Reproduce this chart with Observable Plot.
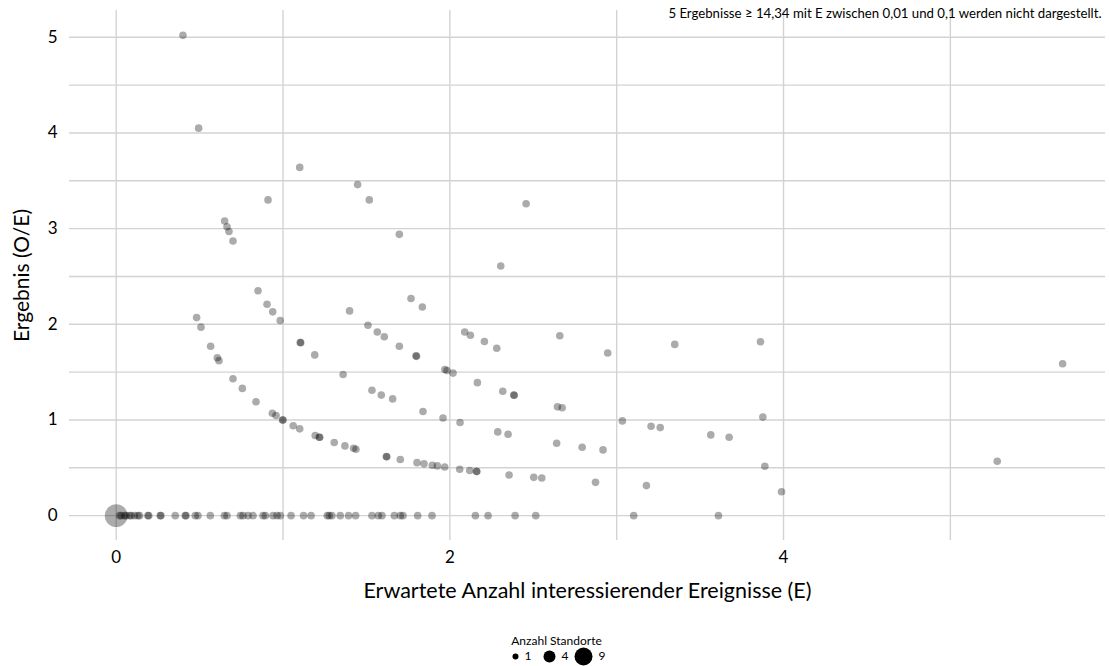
<!DOCTYPE html>
<html><head><meta charset="utf-8">
<script src="https://cdn.jsdelivr.net/npm/d3@7"></script>
<script src="https://cdn.jsdelivr.net/npm/@observablehq/plot@0.6"></script>
<style>
body{margin:0;background:#fff;font-family:Lato,"Open Sans",sans-serif;color:#000}
#legendTitle{text-align:center;font-size:12px;line-height:12px;margin-top:19px;padding-left:4px}
#legend{display:flex;justify-content:center;padding-left:14px;margin-top:-1px}
</style></head><body>
<div id="chart"></div>
<div id="legendTitle"></div>
<div id="legend"></div>
<script>
// Expected number of events (E) and result (O/E), one entry per site
const valE = [0.40,0.494,1.10,0.91,1.447,1.517,0.650,0.664,0.676,0.70,1.697,2.457,2.305,1.767,1.835,1.607,1.697,1.797,1.800,
  2.089,2.123,2.207,2.281,2.659,2.946,3.348,1.97,1.983,2.019,2.165,2.317,2.383,2.386,1.589,1.657,
  0.482,0.508,0.566,0.606,0.616,0.70,0.756,0.838,0.936,0.958,0.997,1.000,1.061,1.10,1.193,1.217,1.220,1.307,1.371,1.423,1.437,
  1.619,1.622,1.703,1.803,1.845,1.895,1.925,1.969,2.059,2.119,2.159,2.162,
  0.85,0.904,0.938,0.983,1.103,1.106,1.19,1.36,1.399,1.509,1.565,1.533,1.839,1.959,2.061,
  3.862,2.645,2.673,2.287,2.349,2.64,2.793,2.918,3.034,3.206,3.261,3.564,3.674,3.876,3.888,3.988,
  2.355,2.503,2.551,2.873,3.178,5.673,5.281];
const valOE = [5.02,4.05,3.64,3.30,3.46,3.30,3.08,3.02,2.97,2.87,2.94,3.26,2.61,2.27,2.18,1.87,1.77,1.67,1.665,
  1.92,1.886,1.82,1.75,1.88,1.70,1.79,1.527,1.517,1.49,1.39,1.30,1.26,1.258,1.26,1.22,
  2.07,1.97,1.77,1.65,1.62,1.43,1.33,1.19,1.07,1.046,1.00,1.00,0.94,0.907,0.837,0.82,0.82,0.764,0.729,0.704,0.694,
  0.617,0.616,0.586,0.554,0.541,0.526,0.52,0.509,0.484,0.471,0.463,0.462,
  2.35,2.21,2.13,2.04,1.81,1.808,1.68,1.475,2.14,1.99,1.92,1.31,1.088,1.02,0.973,
  1.817,1.137,1.127,0.875,0.85,0.756,0.715,0.687,0.99,0.934,0.92,0.844,0.82,1.03,0.516,0.25,
  0.425,0.40,0.394,0.348,0.314,1.587,0.568];
// Sites with O = 0 (O/E = 0)
const zeroE = [0,0.02,0.03,0.05,0.06,0.08,0.09,0.11,0.13,0.14,0.19,0.195,0.264,0.268,0.354,0.414,0.418,0.474,0.49,0.564,
  0.648,0.664,0.744,0.76,0.79,0.82,0.88,0.894,0.94,0.964,0.984,1.048,1.123,1.168,1.265,1.277,1.293,1.343,1.393,1.435,
  1.533,1.571,1.593,1.667,1.703,1.719,1.807,1.893,2.153,2.229,2.391,2.515,3.102,3.61];
const zeroN = zeroE.map(e => e === 0 ? 9 : 1);

const xTicks = [0,2,4];
const xGrid = [0,1,2,3,4,5];
const yTicks = [0,1,2,3,4,5];
const yGrid = [0,0.5,1,1.5,2,2.5,3,3.5,4,4.5,5];
const legendVals = [1,4,9];
const xLabel = "Erwartete Anzahl interessierender Ereignisse (E)";
const yLabel = "Ergebnis (O/E)";
const note = "5 Ergebnisse \u2265 14,34 mit E zwischen 0,01 und 0,1 werden nicht dargestellt.";
const legendTitle = "Anzahl Standorte";

const data = valE.map((e,i) => ({E:e, OE:valOE[i], n:1}))
  .concat(zeroE.map((e,i) => ({E:e, OE:0, n:zeroN[i]})));

const rMax = 11.4;
const rScale = {type:"sqrt", domain:[0,9], range:[0,rMax]};
const font = "Lato, 'Open Sans', sans-serif";
const fmt = d3.format("d");

const chart = Plot.plot({
  width:1109, height:616,
  marginTop:10, marginBottom:76, marginLeft:69, marginRight:4,
  style:{fontFamily:font, fontSize:"17px", color:"#000", background:"#fff"},
  x:{domain:[-0.28,5.93]},
  y:{domain:[-0.26,5.28]},
  r:rScale,
  marks:[
    Plot.gridX(xGrid, {stroke:"#d3d3d3", strokeOpacity:1, strokeWidth:1.4}),
    Plot.gridY(yGrid, {stroke:"#d3d3d3", strokeOpacity:1, strokeWidth:1.4}),
    Plot.axisX(xTicks, {tickSize:0, tickPadding:10, label:null, fontSize:17, tickFormat:fmt}),
    Plot.axisY(yTicks, {tickSize:0, tickPadding:12, label:null, fontSize:17, tickFormat:fmt}),
    Plot.dot(data, {x:"E", y:"OE", r:"n", fill:"#000", fillOpacity:0.33}),
    Plot.text([xLabel], {text:d=>d, frameAnchor:"bottom", dy:57, fontSize:21.5}),
    Plot.text([yLabel], {text:d=>d, frameAnchor:"left", textAnchor:"middle", rotate:-90, dx:-47, fontSize:21}),
    Plot.text([note], {text:d=>d, frameAnchor:"top-right", lineAnchor:"top", textAnchor:"end", dx:-4, dy:-2, fontSize:13.2})
  ]
});
document.getElementById("chart").append(chart);

document.getElementById("legendTitle").textContent = legendTitle;
const legendRadius = v => 9*Math.sqrt(v/9);
const legend = Plot.plot({
  width:104, height:20, margin:0,
  style:{fontFamily:font, fontSize:"12px", background:"transparent", overflow:"visible"},
  x:{type:"point", domain:legendVals, range:[4,73], padding:0, axis:null},
  y:{axis:null},
  r:{type:"sqrt", domain:[0,9], range:[0,9]},
  marks:[
    Plot.dot(legendVals, {x:d=>d, r:d=>d, fill:"#000", frameAnchor:"middle"}),
    ...legendVals.map(v => Plot.text([v], {x:d=>d, text:d=>String(d), textAnchor:"start", dx:legendRadius(v)+6, frameAnchor:"middle"}))
  ]
});
document.getElementById("legend").append(legend);
</script>
</body></html>
